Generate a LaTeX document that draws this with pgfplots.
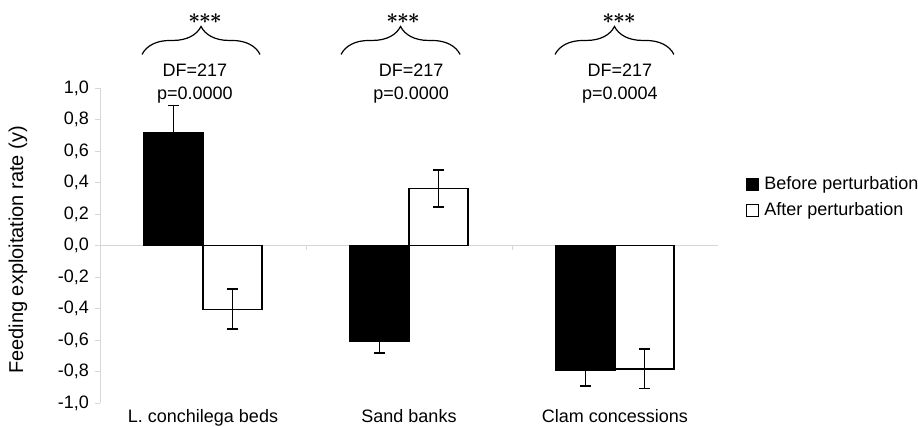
\documentclass[border=0pt]{standalone}
\usepackage{pgfplots}
\pgfplotsset{compat=1.18}
\usepackage{amsmath}
\usepackage{fontspec}
\setmainfont{Liberation Sans}
\usetikzlibrary{decorations.pathreplacing}
\newcommand\ff{\fontsize{18bp}{23bp}\selectfont}
\newcommand\stars{${\boldsymbol{\ast}}\mkern-1mu{\boldsymbol{\ast}}\mkern-1mu{\boldsymbol{\ast}}$}
\definecolor{axgray}{RGB}{215,215,215}

\pgfplotstableread{
x y e
0 0.716 0.173
1 -0.607 0.073
2 -0.794 0.099
}\before
\pgfplotstableread{
x y e
0 -0.406 0.127
1 0.362 0.117
2 -0.783 0.125
}\after

\begin{document}
\begin{tikzpicture}
\ff
\begin{axis}[
  scale only axis, width=618bp, height=315bp,
  xmin=-0.5, xmax=2.5, ymin=-1, ymax=1,
  clip=false,
  ybar=0pt, bar width=59bp,
  axis y line*=left, axis x line*=bottom,
  x axis line style={draw=none},
  y axis line style={draw=axgray, line width=0.8bp},
  ytick={-1,-0.8,-0.6,-0.4,-0.2,0,0.2,0.4,0.6,0.8,1},
  tick align=outside, major tick length=5bp,
  ytick style={draw=axgray, line width=0.8bp},
  xtick={0,1,2}, xtick style={draw=none},
  xticklabels={L. conchilega beds, Sand banks, Clam concessions},
  tick label style={font=\ff},
  xticklabel style={yshift=5bp},
  yticklabel style={/pgf/number format/.cd, use comma, fixed, fixed zerofill, precision=1, assume math mode=true},
  ylabel={Feeding exploitation rate (y)},
  every axis y label/.style={at={(axis description cs:-0.1327,0.486)}, rotate=90, anchor=center, font=\fontsize{20bp}{24bp}\selectfont},
  legend style={at={(1.045,0.725)}, anchor=north west, draw=none, fill=none, font=\ff,
    legend cell align=left, row sep=6bp, inner sep=0pt},
]
\draw[axgray, line width=0.8bp] (axis cs:-0.5,0) -- (axis cs:2.5,0);
\draw[axgray, line width=0.8bp] (axis cs:0.5,0) -- ++(0bp,-5bp);
\draw[axgray, line width=0.8bp] (axis cs:1.5,0) -- ++(0bp,-5bp);
\addplot[fill=black, draw=black, line width=1.4bp,
  legend image code/.code={\draw[fill=black,draw=black,line width=1.4bp] (0bp,-6bp) rectangle (12bp,6bp); \path (15bp,0bp);},
  error bars/.cd, y dir=both, y explicit,
  error bar style={line width=1.9bp, black},
  error mark options={rotate=90, mark size=5.5bp, line width=1.9bp, black}]
  table[x=x, y=y, y error=e]{\before};
\addlegendentry{Before perturbation}
\addplot[fill=white, draw=black, line width=1.4bp,
  legend image code/.code={\draw[fill=white,draw=black,line width=1.4bp] (0bp,-6bp) rectangle (12bp,6bp); \path (15bp,0bp);},
  error bars/.cd, y dir=both, y explicit,
  error bar style={line width=1.9bp, black},
  error mark options={rotate=90, mark size=5.5bp, line width=1.9bp, black}]
  table[x=x, y=y, y error=e]{\after};
\addlegendentry{After perturbation}
% annotations
\draw[decorate, decoration={brace, amplitude=28bp}, line width=1.2bp] (axis cs:-0.296,1.213) -- (axis cs:0.277,1.213);
\draw[decorate, decoration={brace, amplitude=28bp}, line width=1.2bp] (axis cs:0.67,1.213) -- (axis cs:1.248,1.213);
\draw[decorate, decoration={brace, amplitude=28bp}, line width=1.2bp] (axis cs:1.709,1.213) -- (axis cs:2.286,1.213);
\node[font=\fontsize{22bp}{24bp}\selectfont] at (axis cs:0.01,1.44) {\stars};
\node[font=\fontsize{22bp}{24bp}\selectfont] at (axis cs:0.971,1.44) {\stars};
\node[font=\fontsize{22bp}{24bp}\selectfont] at (axis cs:2.02,1.44) {\stars};
\node[align=center, font=\ff] at (axis cs:-0.039,1.025) {DF=217\\p=0.0000};
\node[align=center, font=\ff] at (axis cs:1.01,1.025) {DF=217\\p=0.0000};
\node[align=center, font=\ff] at (axis cs:2.024,1.025) {DF=217\\p=0.0004};
\coordinate (bl) at (rel axis cs:0,0);
\end{axis}
\pgfresetboundingbox
\path[use as bounding box] (bl) ++(-100bp,-24bp) rectangle ++(918bp,427bp);
\end{tikzpicture}
\end{document}
